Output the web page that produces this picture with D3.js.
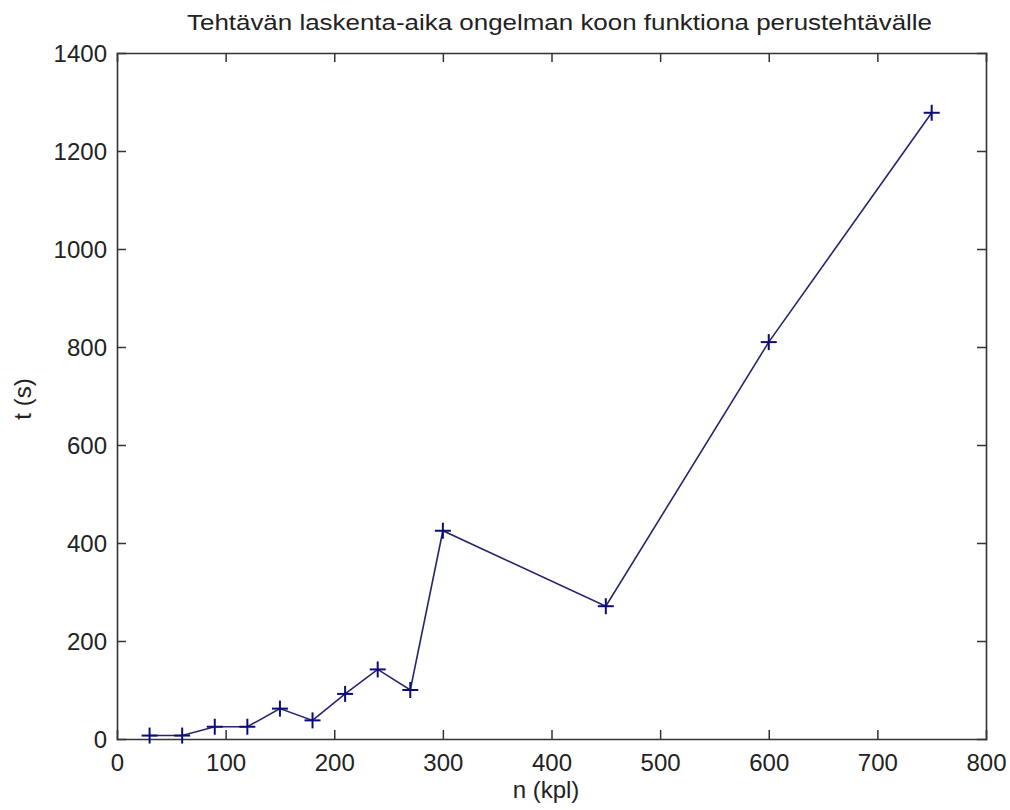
<!DOCTYPE html>
<html>
<head>
<meta charset="utf-8">
<script src="https://cdn.jsdelivr.net/npm/d3@7"></script>
<style>
  html, body { margin: 0; padding: 0; background: #fff; }
  svg { display: block; }
  text { font-family: "Liberation Sans", Arial, sans-serif; fill: #222; }
</style>
</head>
<body>
<svg id="chart" width="1010" height="810"></svg>
<script>
// ---- data ----
const nValues = [30, 60, 90, 120, 150, 180, 210, 240, 270, 300, 450, 600, 750];
const tValues = [7, 7, 25, 25, 62, 38, 92, 142, 100, 425, 271, 810, 1278];
const xTicks = [0, 100, 200, 300, 400, 500, 600, 700, 800];
const yTicks = [0, 200, 400, 600, 800, 1000, 1200, 1400];
const titleText = "Tehtävän laskenta-aika ongelman koon funktiona perustehtävälle";
const xLabelText = "n (kpl)";
const yLabelText = "t (s)";

// ---- layout ----
const plotLeft = 117, plotRight = 986, plotTop = 53, plotBottom = 739;
const svg = d3.select("#chart");
svg.append("rect").attr("width", 1010).attr("height", 810).attr("fill", "#fff");

const x = d3.scaleLinear().domain([0, 800]).range([plotLeft, plotRight]);
const y = d3.scaleLinear().domain([0, 1400]).range([plotBottom, plotTop]);

const axisColor = "#333";
const tickLen = 9;
const fontSize = 24;

// axes (ticks inward, box on)
const gB = svg.append("g").attr("transform", `translate(0,${plotBottom})`)
  .call(d3.axisBottom(x).tickValues(xTicks).tickSize(-tickLen).tickPadding(tickLen + 6).tickFormat(d3.format("d")));
const gT = svg.append("g").attr("transform", `translate(0,${plotTop})`)
  .call(d3.axisTop(x).tickValues(xTicks).tickSize(-tickLen).tickFormat(""));
const gL = svg.append("g").attr("transform", `translate(${plotLeft},0)`)
  .call(d3.axisLeft(y).tickValues(yTicks).tickSize(-tickLen).tickPadding(tickLen + 1).tickFormat(d3.format("d")));
const gR = svg.append("g").attr("transform", `translate(${plotRight},0)`)
  .call(d3.axisRight(y).tickValues(yTicks).tickSize(-tickLen).tickFormat(""));

[gB, gT, gL, gR].forEach(g => {
  g.select(".domain").attr("stroke", axisColor).attr("stroke-width", 1.6);
  g.selectAll(".tick line").attr("stroke", axisColor).attr("stroke-width", 1.5);
  g.selectAll(".tick text")
    .attr("font-family", "'Liberation Sans', Arial, sans-serif")
    .attr("font-size", fontSize).attr("fill", "#222");
});
// remove edge ticks that overlap the box
gT.selectAll(".tick").filter(d => d === 0 || d === 800).select("line").remove();
gB.selectAll(".tick").filter(d => d === 0 || d === 800).select("line").remove();
gL.selectAll(".tick").filter(d => d === 0 || d === 1400).select("line").remove();
gR.selectAll(".tick").filter(d => d === 0 || d === 1400).select("line").remove();
gL.selectAll(".tick text").attr("dy", "0.36em");

// line
const lineColor = "#25256e";
const markerColor = "#0c0c78";
const pts = nValues.map((n, i) => [n, tValues[i]]);
svg.append("path")
  .datum(pts)
  .attr("fill", "none")
  .attr("stroke", lineColor)
  .attr("stroke-width", 1.6)
  .attr("d", d3.line().x(d => x(d[0])).y(d => y(d[1])));

// plus markers
const m = 8;
const mk = svg.append("g").selectAll("g").data(pts).join("g")
  .attr("transform", d => `translate(${x(d[0])},${y(d[1])})`);
mk.append("line").attr("x1", -m).attr("x2", m).attr("y1", 0).attr("y2", 0)
  .attr("stroke", markerColor).attr("stroke-width", 2);
mk.append("line").attr("x1", 0).attr("x2", 0).attr("y1", -m).attr("y2", m)
  .attr("stroke", markerColor).attr("stroke-width", 2);

// title
svg.append("text")
  .attr("x", (plotLeft + plotRight) / 2 + 8).attr("y", 30)
  .attr("text-anchor", "middle")
  .attr("font-size", 22)
  .attr("textLength", 745).attr("lengthAdjust", "spacingAndGlyphs")
  .text(titleText);

// x label
svg.append("text")
  .attr("x", 546).attr("y", 798)
  .attr("text-anchor", "middle")
  .attr("font-size", fontSize)
  .text(xLabelText);

// y label
svg.append("text")
  .attr("transform", `translate(31,399) rotate(-90)`)
  .attr("text-anchor", "middle")
  .attr("font-size", fontSize)
  .text(yLabelText);
</script>
</body>
</html>
